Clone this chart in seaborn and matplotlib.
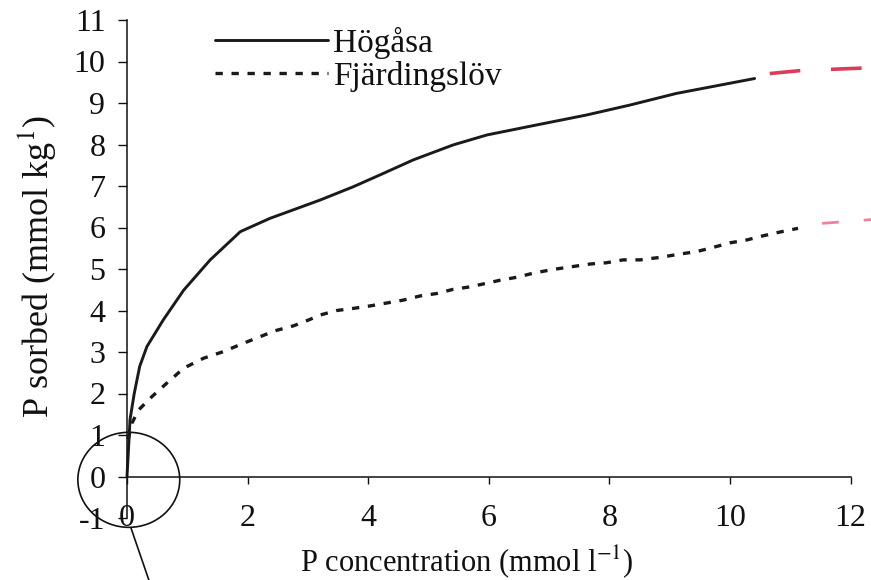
import matplotlib
matplotlib.use("Agg")
import matplotlib.pyplot as plt
from matplotlib.patches import Ellipse
import seaborn as sns
import pandas as pd

# ---- data ----
hog_x = [0.0, 0.03, 0.05, 0.12, 0.21, 0.33, 0.60, 0.94, 1.38, 1.88, 2.37, 3.20, 3.75,
         4.20, 4.75, 5.41, 5.97, 6.79, 7.62, 8.34, 9.11, 10.41]
hog_y = [0.0, 0.80, 1.37, 2.00, 2.65, 3.13, 3.77, 4.49, 5.22, 5.90, 6.22, 6.66, 6.98,
         7.27, 7.63, 7.99, 8.23, 8.47, 8.71, 8.95, 9.23, 9.59]

fja_x = [0.02, 0.08, 0.19, 0.41, 0.66, 0.94, 1.27, 1.60, 1.93, 2.21, 2.45, 2.76, 3.01,
         3.20, 3.48, 3.75, 4.03, 4.58, 4.86, 5.14, 5.41, 5.69, 5.91, 6.19, 6.46, 6.74,
         7.07, 7.40, 7.68, 7.95, 8.23, 8.51, 8.84, 9.17, 9.45, 9.72, 10.00, 10.28,
         10.55, 10.86, 11.13]
fja_y = [0.90, 1.28, 1.60, 1.92, 2.25, 2.61, 2.85, 3.01, 3.21, 3.37, 3.51, 3.63, 3.77,
         3.89, 4.00, 4.05, 4.11, 4.25, 4.35, 4.41, 4.51, 4.57, 4.64, 4.73, 4.80, 4.90,
         4.99, 5.06, 5.12, 5.15, 5.22, 5.22, 5.28, 5.36, 5.42, 5.52, 5.63, 5.70,
         5.80, 5.90, 5.98]

# red hand-drawn extrapolations
hog_ext_x = [10.66, 11.16, 11.66, 12.34]
hog_ext_y = [9.71, 9.78, 9.81, 9.85]
fja_ext_x = [11.53, 11.90, 12.34]
fja_ext_y = [6.10, 6.14, 6.19]

x_ticks = [0, 2, 4, 6, 8, 10, 12]
y_ticks = [-1, 0, 1, 2, 3, 4, 5, 6, 7, 8, 9, 10, 11]
series_names = ["Högåsa", "Fjärdingslöv"]

# ---- style ----
sns.set_theme(style="white")
plt.rcParams["font.family"] = ["Liberation Serif", "DejaVu Serif"]
plt.rcParams["mathtext.fontset"] = "stix"

W, H = 871, 580
fig = plt.figure(figsize=(W / 100, H / 100), dpi=100)
fig.patch.set_facecolor("white")
ax = fig.add_axes([127 / W, 1 - 518 / H, (W - 127) / W, (518 - 20) / H])
ax.set_facecolor("white")

df_h = pd.DataFrame({"x": hog_x, "y": hog_y})
df_f = pd.DataFrame({"x": fja_x, "y": fja_y})
df_he = pd.DataFrame({"x": hog_ext_x, "y": hog_ext_y})
df_fe = pd.DataFrame({"x": fja_ext_x, "y": fja_ext_y})

sns.lineplot(data=df_h, x="x", y="y", ax=ax, color="#1a1a1a", lw=2.1,
             label=series_names[0], sort=False, clip_on=False)
sns.lineplot(data=df_f, x="x", y="y", ax=ax, color="#1a1a1a", lw=2.4,
             dashes=False, label=series_names[1], sort=False, clip_on=False)
ax.lines[1].set_dashes((2.2, 2.6))

sns.lineplot(data=df_he, x="x", y="y", ax=ax, color="#dc3c5a", lw=2.6,
             sort=False, legend=False)
ax.lines[2].set_dashes((8.5, 8.5))
sns.lineplot(data=df_fe, x="x", y="y", ax=ax, color="#ea8298", lw=2.0,
             sort=False, legend=False)
ax.lines[3].set_dashes((6, 9))

ax.set_xlim(0, 12.34)
ax.set_ylim(-1, 11)

# spines
for s in ["top", "right"]:
    ax.spines[s].set_visible(False)
ax.spines["bottom"].set_position(("data", 0))
ax.spines["bottom"].set_bounds(0, 12)
ax.spines["left"].set_bounds(-1, 11)
for s in ["left", "bottom"]:
    ax.spines[s].set_color("#111111")
    ax.spines[s].set_linewidth(1.1)

ax.set_xticks(x_ticks)
ax.set_yticks(y_ticks)
ax.set_xticklabels([str(v) for v in x_ticks])
ax.set_yticklabels([str(v) for v in y_ticks])
ax.tick_params(axis="x", direction="out", length=5, width=1.0, color="#111111",
               labelsize=23, pad=15, bottom=True)
ax.tick_params(axis="y", direction="out", length=6.5, width=1.0, color="#111111",
               labelsize=23, pad=9, left=True)
for lab in ax.get_xticklabels() + ax.get_yticklabels():
    lab.set_color("#111111")
ax.set_xlabel("")
ax.set_ylabel("")

# circle highlighting the origin and pointer line
ell = Ellipse((0.03, -0.08), 1.69, 2.29, fill=False, ec="#111111", lw=1.2, clip_on=False)
ax.add_patch(ell)
ax.plot([0.066, 0.6], [-1.24, -3.5], color="#111111", lw=1.2, clip_on=False)

# axis labels
fig.text(36 / W, 1 - 266 / H, "P sorbed (mmol kg$^{1}$)", rotation=90,
         ha="center", va="center", fontsize=26, color="#111111")
fig.text(467 / W, 1 - 571 / H, "P concentration (mmol l$^{-1}$)",
         ha="center", va="baseline", fontsize=22, color="#111111")

# legend
leg = ax.legend(loc="upper left", bbox_to_anchor=(215 / W, 1 - 27 / H),
                bbox_transform=fig.transFigure, frameon=False, fontsize=24,
                handlelength=3.4, handletextpad=0.15, labelspacing=0.05,
                borderpad=0, borderaxespad=0)
for t in leg.get_texts():
    t.set_color("#111111")

fig.savefig("out.png", dpi=100, facecolor="white")
